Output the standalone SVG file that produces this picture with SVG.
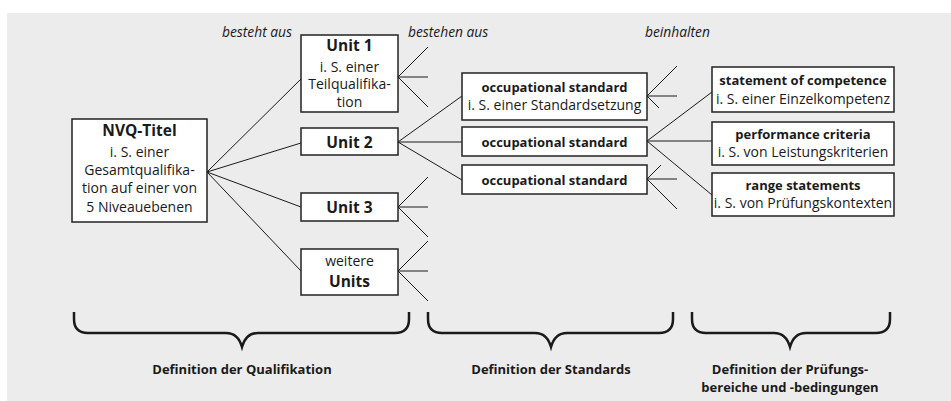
<svg xmlns="http://www.w3.org/2000/svg" width="951" height="401" viewBox="0 0 951 401">
<style>
text{font-family:"Open Sans","Lato","Liberation Sans",sans-serif;fill:#1a1a1a;text-anchor:middle}
.t{font-size:14px}
.b{font-size:13px;font-weight:bold}
.h{font-size:15.5px;font-weight:bold}
.i{font-style:italic;font-size:13.8px;text-anchor:start}
.box{fill:#fff;stroke:#222;stroke-width:1.5}
.c line{stroke:#1a1a1a;stroke-width:1}
.br{fill:none;stroke:#1a1a1a;stroke-width:2.5}
.lab{font-size:13px;font-weight:bold}
</style>
<rect x="7" y="13" width="944" height="388" fill="#ececec"/>
<g id="labels">
<text class="i" x="222" y="37">besteht aus</text>
<text class="i" x="408" y="37">bestehen aus</text>
<text class="i" x="645" y="37">beinhalten</text>
</g>
<g class="c" id="connectors">
<line x1="207" y1="172" x2="301" y2="79"/>
<line x1="207" y1="172" x2="301" y2="143"/>
<line x1="207" y1="172" x2="301" y2="207"/>
<line x1="207" y1="172" x2="301" y2="271"/>
<line x1="398" y1="77" x2="428" y2="47"/>
<line x1="398" y1="77" x2="428" y2="77"/>
<line x1="398" y1="77" x2="428" y2="107"/>
<line x1="398" y1="142" x2="462" y2="96"/>
<line x1="398" y1="142" x2="462" y2="142"/>
<line x1="398" y1="142" x2="462" y2="180"/>
<line x1="398" y1="207" x2="428" y2="177"/>
<line x1="398" y1="207" x2="428" y2="207"/>
<line x1="398" y1="207" x2="428" y2="237"/>
<line x1="398" y1="271" x2="428" y2="241"/>
<line x1="398" y1="271" x2="428" y2="271"/>
<line x1="398" y1="271" x2="428" y2="301"/>
<line x1="647" y1="96" x2="677" y2="66"/>
<line x1="647" y1="96" x2="677" y2="96"/>
<line x1="647" y1="96" x2="659" y2="108"/>
<line x1="647" y1="141" x2="712" y2="92"/>
<line x1="647" y1="141" x2="712" y2="141"/>
<line x1="647" y1="141" x2="712" y2="195"/>
<line x1="647" y1="179" x2="661" y2="165"/>
<line x1="647" y1="179" x2="677" y2="179"/>
<line x1="647" y1="179" x2="677" y2="209"/>
</g>
<g id="nvq">
<rect class="box" x="72" y="119" width="135" height="103"/>
<text class="h" x="139.5" y="136">NVQ-Titel</text>
<text class="t" x="139.5" y="156.5">i. S. einer</text>
<text class="t" x="139.5" y="175">Gesamtqualifika-</text>
<text class="t" x="139.5" y="193">tion auf einer von</text>
<text class="t" x="139.5" y="211.5">5 Niveauebenen</text>
</g>
<g id="unit1">
<rect class="box" x="301" y="35" width="97" height="77"/>
<text class="h" x="349.5" y="51">Unit 1</text>
<text class="t" x="349.5" y="71.5">i. S. einer</text>
<text class="t" x="349.5" y="89">Teilqualifika-</text>
<text class="t" x="349.5" y="106.5">tion</text>
</g>
<g id="unit2">
<rect class="box" x="301" y="128" width="97" height="27"/>
<text class="h" x="349.5" y="147.5">Unit 2</text>
</g>
<g id="unit3">
<rect class="box" x="301" y="193" width="97" height="28"/>
<text class="h" x="349.5" y="212.5">Unit 3</text>
</g>
<g id="units">
<rect class="box" x="301" y="249" width="97" height="46"/>
<text class="t" x="349.5" y="266">weitere</text>
<text class="h" x="349.5" y="287">Units</text>
</g>
<g id="occ1">
<rect class="box" x="462" y="73" width="185" height="47"/>
<text class="b" x="554.5" y="92">occupational standard</text>
<text class="t" x="554.5" y="110">i. S. einer Standardsetzung</text>
</g>
<g id="occ2">
<rect class="box" x="462" y="127" width="185" height="29"/>
<text class="b" x="554.5" y="146.5">occupational standard</text>
</g>
<g id="occ3">
<rect class="box" x="462" y="165" width="185" height="29"/>
<text class="b" x="554.5" y="184.5">occupational standard</text>
</g>
<g id="soc">
<rect class="box" x="712" y="67" width="182" height="45"/>
<text class="b" x="803" y="85">statement of competence</text>
<text class="t" x="803" y="104">i. S. einer Einzelkompetenz</text>
</g>
<g id="pc">
<rect class="box" x="712" y="122" width="182" height="43"/>
<text class="b" x="803" y="139">performance criteria</text>
<text class="t" x="803" y="157">i. S. von Leistungskriterien</text>
</g>
<g id="rs">
<rect class="box" x="712" y="173" width="182" height="43"/>
<text class="b" x="803" y="190">range statements</text>
<text class="t" x="803" y="208">i. S. von Prüfungskontexten</text>
</g>
<g id="braces">
<path class="br" d="M74,312 v7 q0,14 14,14 H226 q12,0 16,14 q4,-14 16,-14 H395 q14,0 14,-14 v-7"/>
<path class="br" d="M428,312 v7 q0,14 14,14 H535 q12,0 16,14 q4,-14 16,-14 H659 q14,0 14,-14 v-7"/>
<path class="br" d="M692,312 v7 q0,14 14,14 H774 q12,0 16,14 q4,-14 16,-14 H876 q14,0 14,-14 v-7"/>
</g>
<g id="captions">
<text class="lab" x="242" y="374">Definition der Qualifikation</text>
<text class="lab" x="551" y="374">Definition der Standards</text>
<text class="lab" x="790" y="374">Definition der Prüfungs-</text>
<text class="lab" x="790" y="392">bereiche und -bedingungen</text>
</g>
</svg>
